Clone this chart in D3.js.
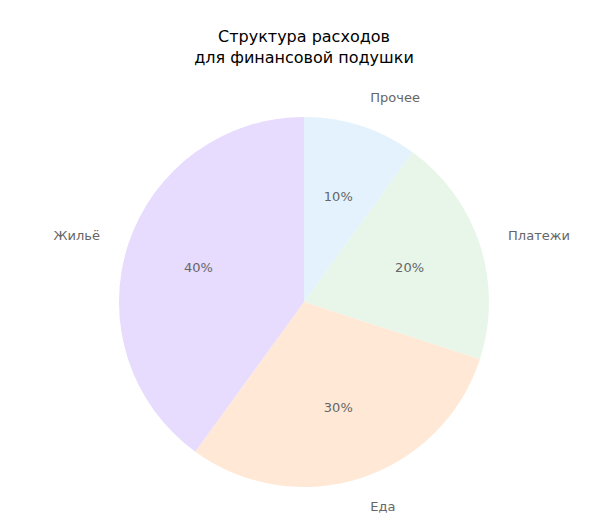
<!DOCTYPE html>
<html><head><meta charset="utf-8">
<script src="https://cdn.jsdelivr.net/npm/d3@7"></script>
<style>body{margin:0;background:#fff}text{font-family:"DejaVu Sans",sans-serif}</style>
</head><body><svg id="c" width="597" height="513"></svg>
<script>
const categories = ["Прочее","Платежи","Еда","Жильё"];
const values = [10,20,30,40];
const colors = ["#e3f2fd","#e8f5e9","#ffe9d6","#e7dbfe"];
const svg = d3.select("#c");
svg.append("text").attr("x",304).attr("y",42).attr("text-anchor","middle").attr("font-size",16).text("Структура расходов");
svg.append("text").attr("x",304).attr("y",63).attr("text-anchor","middle").attr("font-size",16).text("для финансовой подушки");
const R=185, cx=304, cy=302;
const pie = d3.pie().sort(null).value(d=>d)(values);
const arc = d3.arc().innerRadius(0).outerRadius(R);
const g = svg.append("g").attr("transform",`translate(${cx},${cy})`);
g.selectAll("path").data(pie).join("path").attr("d",arc).attr("fill",(d,i)=>colors[i]);
const pos=(d,r)=>{const a=(d.startAngle+d.endAngle)/2;return [r*Math.sin(a),-r*Math.cos(a)];};
g.selectAll("text.p").data(pie).join("text").attr("class","p")
 .attr("x",d=>pos(d,R*0.6)[0]).attr("y",d=>pos(d,R*0.6)[1]).attr("dy","0.35em")
 .attr("text-anchor","middle").attr("font-size",13).attr("fill","#666")
 .text(d=>d.data+"%");
g.selectAll("text.l").data(pie).join("text").attr("class","l")
 .attr("x",d=>pos(d,R*1.16)[0]).attr("y",d=>pos(d,R*1.16)[1]).attr("dy","0.35em")
 .attr("text-anchor",d=>{const x=pos(d,1)[0];return Math.abs(x)<0.1?"middle":(x>0?"start":"end");})
 .attr("font-size",13).attr("fill","#666")
 .text((d,i)=>categories[i]);
</script></body></html>
